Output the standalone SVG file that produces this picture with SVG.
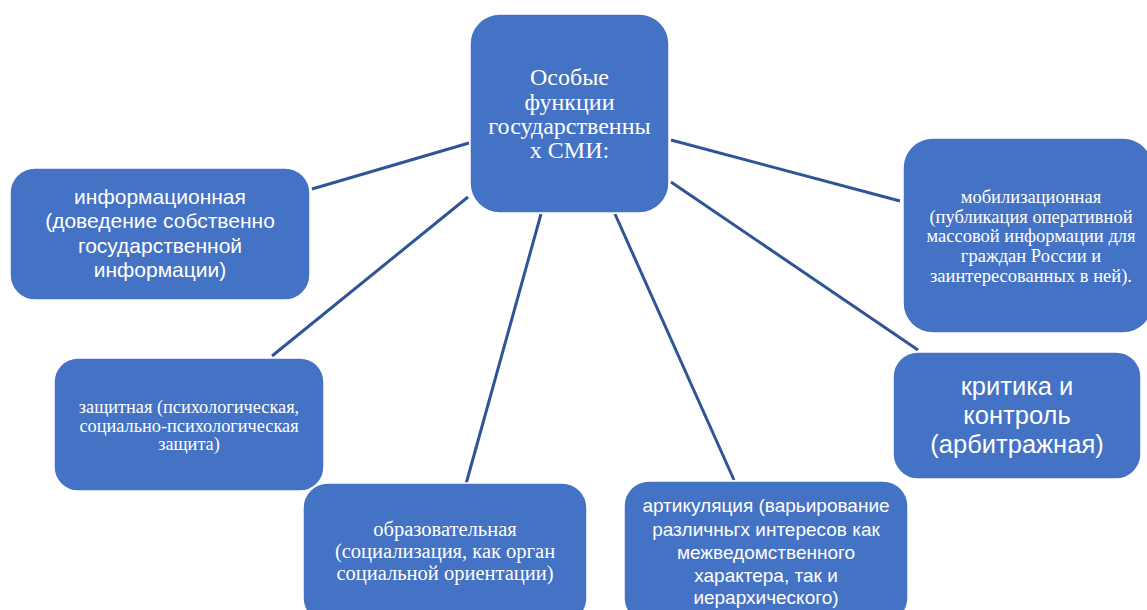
<svg xmlns="http://www.w3.org/2000/svg" width="1147" height="610" viewBox="0 0 1147 610">
<style>
.box{fill:#4472C4;stroke:#ffffff;stroke-width:1.5}
.ln{stroke:#2F5597;stroke-width:3;fill:none}
.s{font-family:"Liberation Sans",Arial,sans-serif;fill:#ffffff;text-anchor:middle}
.r{font-family:"Liberation Serif","Times New Roman",serif;fill:#ffffff;text-anchor:middle}
</style>
<rect width="1147" height="610" fill="#ffffff"/>
<g id="connectors">
<line class="ln" x1="469" y1="143" x2="312" y2="189"/>
<line class="ln" x1="468" y1="197" x2="272" y2="356"/>
<line class="ln" x1="541" y1="214" x2="466" y2="484"/>
<line class="ln" x1="615" y1="214" x2="734" y2="480"/>
<line class="ln" x1="671" y1="140" x2="900" y2="201"/>
<line class="ln" x1="671" y1="182" x2="918" y2="350"/>
</g>
<g id="center">
<rect class="box" x="470" y="14" width="199" height="199" rx="30"/>
<text class="r" font-size="24" x="569.5"><tspan x="569.5" y="85">Особые</tspan><tspan x="569.5" y="110">функции</tspan><tspan x="569.5" y="134">государственны</tspan><tspan x="569.5" y="158">х СМИ:</tspan></text>
</g>
<g id="informational">
<rect class="box" x="10" y="168" width="300" height="132" rx="25"/>
<text class="s" font-size="21"><tspan x="160" y="204">информационная</tspan><tspan x="160" y="228">(доведение собственно</tspan><tspan x="160" y="253">государственной</tspan><tspan x="160" y="277">информации)</tspan></text>
</g>
<g id="protective">
<rect class="box" x="54" y="358" width="270" height="133" rx="24"/>
<text class="r" font-size="18.3"><tspan x="189" y="413">защитная (психологическая,</tspan><tspan x="189" y="432">социально-психологическая</tspan><tspan x="189" y="450">защита)</tspan></text>
</g>
<g id="educational">
<rect class="box" x="303" y="483" width="284" height="140" rx="25"/>
<text class="r" font-size="20.5"><tspan x="445" y="536">образовательная</tspan><tspan x="445" y="558">(социализация, как орган</tspan><tspan x="445" y="580">социальной ориентации)</tspan></text>
</g>
<g id="articulation">
<rect class="box" x="624" y="481" width="284" height="142" rx="25"/>
<text class="s" font-size="19"><tspan x="766" y="512">артикуляция (варьирование</tspan><tspan x="766" y="536">различньгх интересов как</tspan><tspan x="766" y="559">межведомственного</tspan><tspan x="766" y="582">характера, так и</tspan><tspan x="766" y="604">иерархического)</tspan></text>
</g>
<g id="mobilization">
<rect class="box" x="903" y="138" width="250" height="195" rx="30"/>
<text class="r" font-size="18.5"><tspan x="1031" y="203">мобилизационная</tspan><tspan x="1031" y="223">(публикация оперативной</tspan><tspan x="1031" y="242">массовой информации для</tspan><tspan x="1031" y="262">граждан России и</tspan><tspan x="1031" y="282">заинтересованных в ней).</tspan></text>
</g>
<g id="critique">
<rect class="box" x="893" y="352" width="248" height="127" rx="25"/>
<text class="s" font-size="25.5"><tspan x="1017" y="395">критика и</tspan><tspan x="1017" y="424">контроль</tspan><tspan x="1017" y="453">(арбитражная)</tspan></text>
</g>
</svg>
